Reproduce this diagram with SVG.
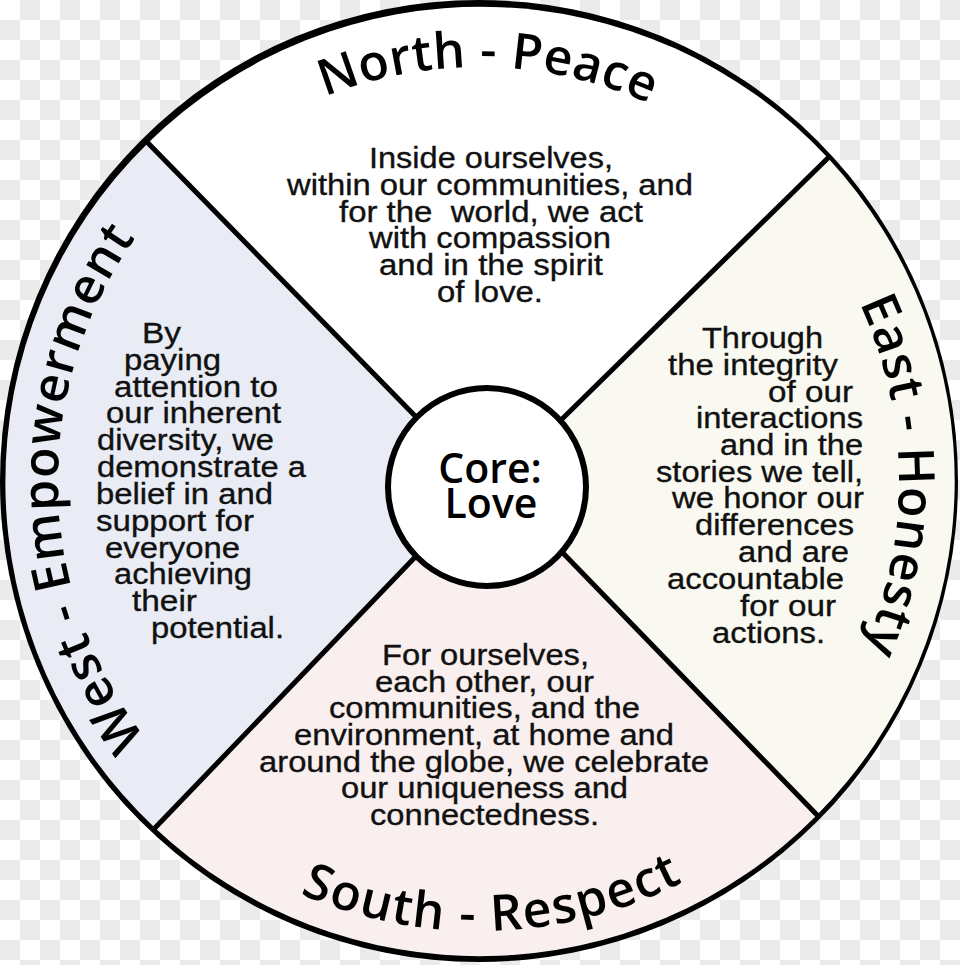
<svg xmlns="http://www.w3.org/2000/svg" width="960" height="965" viewBox="0 0 960 965">
<defs>
  <pattern id="checker" width="40" height="40" patternUnits="userSpaceOnUse">
    <rect width="40" height="40" fill="#ffffff"/>
    <rect x="20" y="0" width="20" height="20" fill="#ebebeb"/>
    <rect x="0" y="20" width="20" height="20" fill="#ebebeb"/>
  </pattern>
  <path id="arcN" d="M 120.5 274 A 414 414 0 0 1 837.5 274"/>
  <path id="arcE" d="M 689 117.3 A 420 420 0 0 1 689 844.7"/>
  <path id="arcS" d="M 89.3 706 A 450 450 0 0 0 868.7 706"/>
  <path id="arcW" d="M 268.5 845.6 A 421 421 0 0 1 268.5 116.4"/>
</defs>
<style>
  .sector { stroke: none; }
  .div { stroke: #000; stroke-width: 5; stroke-linecap: butt; }
  .title { font-family: "Open Sans", "Noto Sans", sans-serif; font-size: 50px; font-weight: 600; fill: #000; letter-spacing: 1px; }
  .body { font-family: "Liberation Sans", Arial, sans-serif; font-size: 29px; fill: #111; stroke: #111; stroke-width: 0.35px; }
  .core { font-family: "Open Sans", "Noto Sans", sans-serif; font-size: 41px; font-weight: 600; fill: #000; text-anchor: middle; }
</style>
<rect width="960" height="965" fill="url(#checker)"/>
<ellipse cx="479" cy="481" rx="479" ry="481" fill="#000"/>

<g id="node-north">
  <path class="sector" fill="#ffffff" d="M 422 423 L 148 143 A 474.5 474.5 0 0 1 828 158 L 560 421 L 488 487 Z"/>
</g>
<g id="node-east">
  <path class="sector" fill="#f9f9f1" d="M 560 421 L 828 158 A 474.5 474.5 0 0 1 817 815 L 561 551 L 488 487 Z"/>
</g>
<g id="node-south">
  <path class="sector" fill="#f9efee" d="M 561 551 L 817 815 A 474.5 474.5 0 0 1 155 828 L 420 552 L 488 487 Z"/>
</g>
<g id="node-west">
  <path class="sector" fill="#e9ecf4" d="M 420 552 L 155 828 A 474.5 474.5 0 0 1 148 143 L 422 423 L 488 487 Z"/>
</g>

<g id="connectors">
  <line class="div" x1="146" y1="141" x2="422" y2="423"/>
  <line class="div" x1="830" y1="156" x2="560" y2="421"/>
  <line class="div" x1="153" y1="830" x2="420" y2="552"/>
  <line class="div" x1="819" y1="817" x2="561" y2="551"/>
</g>

<g id="title-north">
  <text class="title" style="letter-spacing:0.5px" transform="rotate(1.25 479 481)"><textPath href="#arcN" startOffset="50%" text-anchor="middle">North - Peace</textPath></text>
</g>
<g id="title-east">
  <text class="title" transform="rotate(-0.7 479 481)"><textPath href="#arcE" startOffset="50%" text-anchor="middle">East - Honesty</textPath></text>
</g>
<g id="title-south">
  <text class="title" style="letter-spacing:1.6px" transform="rotate(-1.85 479 481)"><textPath href="#arcS" startOffset="50%" text-anchor="middle">South - Respect</textPath></text>
</g>
<g id="title-west">
  <text class="title" transform="rotate(-1.1 479 481)"><textPath href="#arcW" startOffset="50%" text-anchor="middle">West - Empowerment</textPath></text>
</g>

<g id="text-north" class="body">
  <text x="369" y="168" textLength="244" lengthAdjust="spacingAndGlyphs">Inside ourselves,</text>
  <text x="287" y="195" textLength="406" lengthAdjust="spacingAndGlyphs">within our communities, and</text>
  <text x="339" y="222" textLength="304" lengthAdjust="spacingAndGlyphs" xml:space="preserve">for the  world, we act</text>
  <text x="369" y="248" textLength="242" lengthAdjust="spacingAndGlyphs">with compassion</text>
  <text x="379" y="275" textLength="224" lengthAdjust="spacingAndGlyphs">and in the spirit</text>
  <text x="437" y="302" textLength="106" lengthAdjust="spacingAndGlyphs">of love.</text>
</g>

<g id="text-west" class="body">
  <text x="142" y="343" textLength="39" lengthAdjust="spacingAndGlyphs">By</text>
  <text x="124" y="370" textLength="97" lengthAdjust="spacingAndGlyphs">paying</text>
  <text x="114" y="397" textLength="164" lengthAdjust="spacingAndGlyphs">attention to</text>
  <text x="106" y="423" textLength="175" lengthAdjust="spacingAndGlyphs">our inherent</text>
  <text x="97" y="450" textLength="177" lengthAdjust="spacingAndGlyphs">diversity, we</text>
  <text x="97" y="477" textLength="209" lengthAdjust="spacingAndGlyphs">demonstrate a</text>
  <text x="96" y="504" textLength="177" lengthAdjust="spacingAndGlyphs">belief in and</text>
  <text x="96" y="531" textLength="158" lengthAdjust="spacingAndGlyphs">support for</text>
  <text x="105" y="558" textLength="135" lengthAdjust="spacingAndGlyphs">everyone</text>
  <text x="114" y="584" textLength="138" lengthAdjust="spacingAndGlyphs">achieving</text>
  <text x="132" y="611" textLength="65" lengthAdjust="spacingAndGlyphs">their</text>
  <text x="151" y="638" textLength="133" lengthAdjust="spacingAndGlyphs">potential.</text>
</g>

<g id="text-east" class="body">
  <text x="702" y="348" textLength="121" lengthAdjust="spacingAndGlyphs">Through</text>
  <text x="668" y="375" textLength="170" lengthAdjust="spacingAndGlyphs">the integrity</text>
  <text x="768" y="402" textLength="85" lengthAdjust="spacingAndGlyphs">of our</text>
  <text x="696" y="428" textLength="167" lengthAdjust="spacingAndGlyphs">interactions</text>
  <text x="720" y="455" textLength="143" lengthAdjust="spacingAndGlyphs">and in the</text>
  <text x="656" y="482" textLength="207" lengthAdjust="spacingAndGlyphs">stories we tell,</text>
  <text x="672" y="508" textLength="192" lengthAdjust="spacingAndGlyphs">we honor our</text>
  <text x="695" y="535" textLength="159" lengthAdjust="spacingAndGlyphs">differences</text>
  <text x="738" y="562" textLength="111" lengthAdjust="spacingAndGlyphs">and are</text>
  <text x="667" y="589" textLength="177" lengthAdjust="spacingAndGlyphs">accountable</text>
  <text x="740" y="616" textLength="96" lengthAdjust="spacingAndGlyphs">for our</text>
  <text x="712" y="643" textLength="113" lengthAdjust="spacingAndGlyphs">actions.</text>
</g>

<g id="text-south" class="body">
  <text x="382" y="665" textLength="207" lengthAdjust="spacingAndGlyphs">For ourselves,</text>
  <text x="375" y="692" textLength="219" lengthAdjust="spacingAndGlyphs">each other, our</text>
  <text x="329" y="718" textLength="311" lengthAdjust="spacingAndGlyphs">communities, and the</text>
  <text x="294" y="745" textLength="380" lengthAdjust="spacingAndGlyphs">environment, at home and</text>
  <text x="259" y="772" textLength="450" lengthAdjust="spacingAndGlyphs">around the globe, we celebrate</text>
  <text x="341" y="798" textLength="287" lengthAdjust="spacingAndGlyphs">our uniqueness and</text>
  <text x="370" y="825" textLength="229" lengthAdjust="spacingAndGlyphs">connectedness.</text>
</g>

<g id="node-core">
  <circle cx="487" cy="487" r="99" fill="#ffffff" stroke="#000" stroke-width="6"/>
  <text class="core" x="490" y="483">Core:</text>
  <text class="core" x="491" y="518">Love</text>
</g>
</svg>
